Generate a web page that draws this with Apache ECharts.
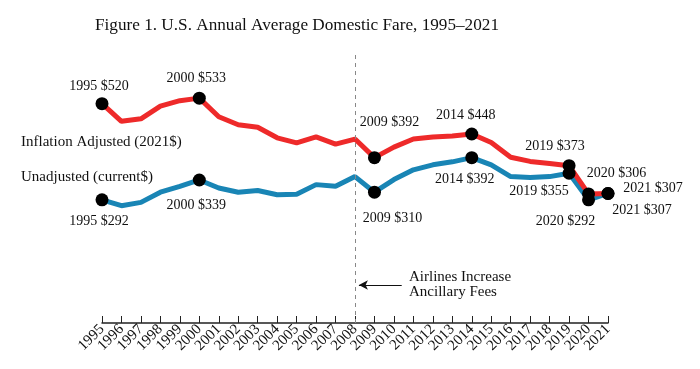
<!DOCTYPE html>
<html>
<head>
<meta charset="utf-8">
<script src="https://cdn.jsdelivr.net/npm/echarts@6/dist/echarts.min.js"></script>
<style>
html,body{margin:0;padding:0;background:#fff;}
#chart{width:700px;height:369px;}
</style>
</head>
<body>
<div id="chart"></div>
<script>
// ---- data ----
var years = ['1995','1996','1997','1998','1999','2000','2001','2002','2003','2004','2005','2006','2007','2008','2009','2010','2011','2012','2013','2014','2015','2016','2017','2018','2019','2020','2021'];
var adjusted = [520,478,484,514,527,533,489,470,464,439,427,441,424,436,392,417,436,441,443,448,428,393,383,378,373,306,307];
var unadjusted = [292,278,286,310,324,339,320,310,314,304,305,328,324,347,310,340,363,375,382,392,375,347,345,347,355,292,307];
var labeledYearsAdj = ['1995','2000','2009','2014','2019','2020','2021'];
var labeledYearsUnadj = ['1995','2000','2009','2014','2019','2020','2021'];
var policyYear = '2008';
var arrowFrom = [2010.4, 90];
var arrowTo = [2008.2, 90];
var titleText = 'Figure 1. U.S. Annual Average Domestic Fare, 1995\u20132021';
var adjName = 'Inflation Adjusted (2021$)';
var unadjName = 'Unadjusted (current$)';
var noteLines = ['Airlines Increase', 'Ancillary Fees'];

// ---- label offsets (style) ----
var adjOffsets = {1995:[-3,-17],2000:[-3,-20],2009:[15,-35],2014:[-6,-19],2019:[-14,-19],2020:[28,-21],2021:[45,-5]};
var unadjOffsets = {1995:[-3,22],2000:[-3,25],2009:[18,26],2014:[-7,22],2019:[-30,18],2020:[-23,22],2021:[34,17]};

var FONT = 'Liberation Serif';
function dots(vals, list, offs){
  return list.map(function(y){
    var v = vals[years.indexOf(y)];
    return {value:[y,v], label:{offset:offs[y], formatter: y + ' $' + v}};
  });
}

var chart = echarts.init(document.getElementById('chart'));
chart.setOption({
  animation:false,
  title:{text:titleText, left:90, top:12, textStyle:{fontFamily:FONT, fontSize:17.2, fontWeight:'normal', color:'#111'}},
  grid:{left:102, right:92, top:53, bottom:46},
  xAxis:[
    {type:'category', data:years, boundaryGap:false,
      axisLine:{lineStyle:{color:'#222', width:1.5}},
      axisTick:{inside:true, length:7, interval:0, lineStyle:{color:'#222'}},
      axisLabel:{rotate:45, margin:4, interval:0, fontFamily:FONT, fontSize:15, color:'#111'},
      splitLine:{show:false}},
    {type:'value', min:1995, max:2021, show:false}
  ],
  yAxis:{type:'value', min:0, max:640, show:false, splitLine:{show:false}},
  graphic:[
    {type:'text', left:21, top:135, style:{text:adjName, font:'15px "Liberation Serif"', fill:'#111'}},
    {type:'text', left:21, top:170, style:{text:unadjName, font:'15px "Liberation Serif"', fill:'#111'}},
    {type:'text', left:409, top:270, style:{text:noteLines[0], font:'15px "Liberation Serif"', fill:'#111'}},
    {type:'text', left:409, top:285, style:{text:noteLines[1], font:'15px "Liberation Serif"', fill:'#111'}}
  ],
  series:[
    {type:'line', data:unadjusted, symbol:'none', lineStyle:{color:'#1985b5', width:5}, z:2,
      markLine:{silent:true, symbol:'none', label:{show:false},
        lineStyle:{color:'#888', type:[4,4], width:1},
        data:[{xAxis:policyYear}]}},
    {type:'line', data:adjusted, symbol:'none', lineStyle:{color:'#ee2a2a', width:5}, z:3},
    {type:'line', xAxisIndex:1, data:[], symbol:'none',
      markLine:{silent:true, symbol:['none','arrow'], symbolSize:[7,9], label:{show:false},
        lineStyle:{color:'#111', type:'solid', width:1},
        data:[[{coord:arrowFrom},{coord:arrowTo}]]}},
    {type:'scatter', data:dots(unadjusted, labeledYearsUnadj, unadjOffsets), symbolSize:13, z:5,
      itemStyle:{color:'#000', opacity:1},
      label:{show:true, position:'inside', fontFamily:FONT, fontSize:14, color:'#111'}},
    {type:'scatter', data:dots(adjusted, labeledYearsAdj, adjOffsets), symbolSize:13, z:6,
      itemStyle:{color:'#000', opacity:1},
      label:{show:true, position:'inside', fontFamily:FONT, fontSize:14, color:'#111'}}
  ]
});
</script>
</body>
</html>
